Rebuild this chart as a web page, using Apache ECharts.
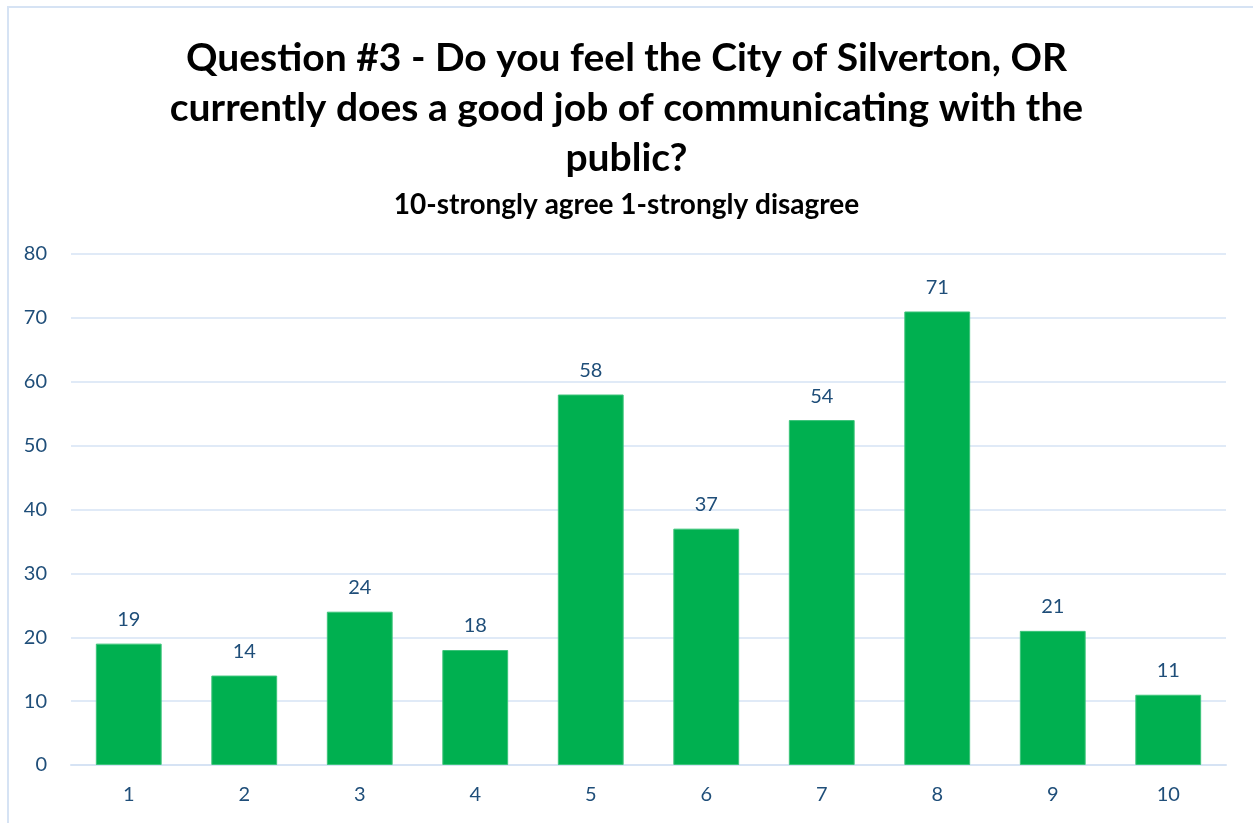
<!DOCTYPE html>
<html><head><meta charset="utf-8">
<script src="https://cdn.jsdelivr.net/npm/echarts@6/dist/echarts.min.js"></script>
<style>
html,body{margin:0;padding:0;background:#fff;}
#frame{position:absolute;left:7px;top:6px;width:1260px;height:830px;border:2px solid #D6E3F4;box-sizing:border-box;}
#c{position:absolute;left:0;top:0;width:1253px;height:823px;}
</style></head>
<body>
<div id="frame"></div>
<div id="c"></div>
<script>
const titleLines = ["Question #3 - Do you feel the City of Silverton, OR", "currently does a good job of communicating with the", "public?"];
const subtitle = "10-strongly agree 1-strongly disagree";
const categories = ["1","2","3","4","5","6","7","8","9","10"];
const values = [19, 14, 24, 18, 58, 37, 54, 71, 21, 11];
const yTicks = [0, 10, 20, 30, 40, 50, 60, 70, 80];

const chart = echarts.init(document.getElementById('c'), null, {renderer:'canvas'});
const labelColor = '#1F4E79';
chart.setOption({
  backgroundColor: 'transparent',
  animation: false,
  title: [{
    text: titleLines.join('\n'),
    left: 'center', top: 28,
    textStyle: {fontFamily: 'Lato', fontWeight: 'bold', fontSize: 39, color: '#000', lineHeight: 50}
  },{
    text: subtitle,
    left: 'center', top: 186,
    textStyle: {fontFamily: 'Lato', fontWeight: 'bold', fontSize: 28, color: '#000'}
  }],
  grid: {left: 71, right: 27, top: 254, bottom: 58, containLabel: false},
  xAxis: {
    type: 'category', data: categories,
    axisLine: {show: true, lineStyle: {color: '#D6E3F4', width: 2}},
    axisTick: {show: false},
    axisLabel: {color: labelColor, fontFamily: 'Lato', fontSize: 20, margin: 20}
  },
  yAxis: {
    type: 'value', min: yTicks[0], max: yTicks[yTicks.length-1], interval: 10,
    axisLine: {show: false}, axisTick: {show: false},
    axisLabel: {color: labelColor, fontFamily: 'Lato', fontSize: 20, margin: 24},
    splitLine: {lineStyle: {color: '#D6E3F4', width: 1.5}}
  },
  series: [{
    type: 'bar', data: values, barWidth: '57%',
    itemStyle: {color: '#00B050', borderColor: '#3CC47A', borderWidth: 1},
    label: {show: true, position: 'top', distance: 14, color: labelColor, fontFamily: 'Lato', fontSize: 20}
  }]
});
</script>
</body></html>
